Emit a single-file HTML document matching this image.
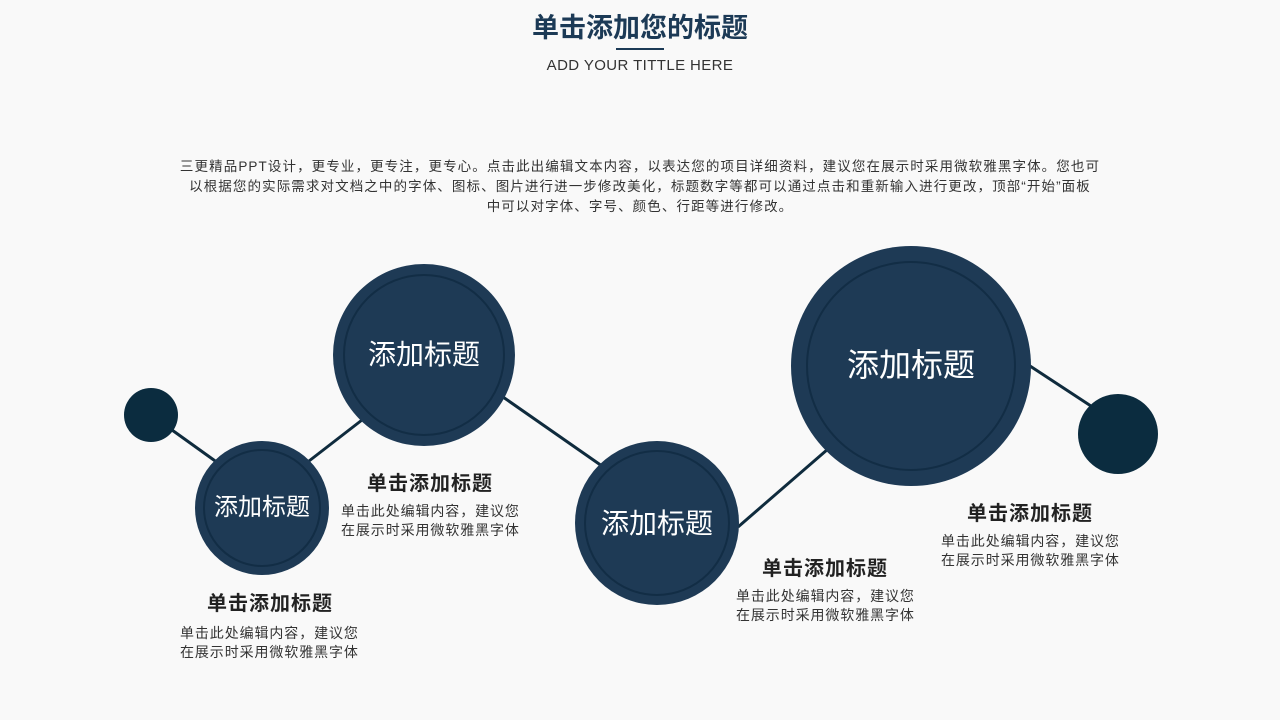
<!DOCTYPE html>
<html><head><meta charset="utf-8"><style>
body{margin:0;width:1280px;height:720px;background:#f9f9f9;font-family:"Liberation Sans","Noto Sans CJK SC",sans-serif;position:relative;overflow:hidden}
.t{position:absolute;white-space:nowrap}
.h{font-weight:bold;font-size:20px;color:#222;text-align:center;letter-spacing:1px}
.d{font-size:14px;color:#333;line-height:19px;letter-spacing:0.9px}
</style></head><body>
<div class="t" style="left:0;width:1280px;top:11px;text-align:center;font-size:27px;line-height:34px;font-weight:bold;color:#1c3a56">单击添加您的标题</div>
<div style="position:absolute;left:616px;top:48px;width:48px;height:2px;background:#1c3a56"></div>
<div class="t" style="left:0;width:1280px;top:57px;text-align:center;font-size:15px;color:#333;letter-spacing:0.4px">ADD YOUR TITTLE HERE</div>
<div class="t" style="left:100px;width:1080px;top:157px;text-align:center;font-size:13.5px;color:#333;line-height:20px;letter-spacing:1.1px">三更精品PPT设计，更专业，更专注，更专心。点击此出编辑文本内容，以表达您的项目详细资料，建议您在展示时采用微软雅黑字体。您也可<br>以根据您的实际需求对文档之中的字体、图标、图片进行进一步修改美化，标题数字等都可以通过点击和重新输入进行更改，顶部“开始”面板<br>中可以对字体、字号、颜色、行距等进行修改。</div>
<svg width="1280" height="720" style="position:absolute;left:0;top:0">
<g stroke="#0f2b3d" stroke-width="3">
<line x1="172" y1="430" x2="218" y2="463"/>
<line x1="309" y1="461" x2="362" y2="420"/>
<line x1="503" y1="397" x2="602" y2="466"/>
<line x1="738" y1="527" x2="828" y2="449"/>
<line x1="1030" y1="366" x2="1094" y2="408"/>
</g>
<circle cx="151" cy="415" r="27" fill="#0b2c3f"/>
<circle cx="1118" cy="434" r="40" fill="#0b2c3f"/>
<g fill="#1e3a55" stroke="#122d45" stroke-width="2">
<circle cx="262" cy="508" r="67" stroke="none"/><circle cx="262" cy="508" r="58" fill="none"/>
<circle cx="424" cy="355" r="91" stroke="none"/><circle cx="424" cy="355" r="80" fill="none"/>
<circle cx="657" cy="523" r="82" stroke="none"/><circle cx="657" cy="523" r="72" fill="none"/>
<circle cx="911" cy="366" r="120" stroke="none"/><circle cx="911" cy="366" r="104" fill="none"/>
</g>
<g fill="#fff" font-family="Liberation Sans,Noto Sans CJK SC,sans-serif" text-anchor="middle">
<text x="262" y="515" font-size="24">添加标题</text>
<text x="424" y="364" font-size="28">添加标题</text>
<text x="657" y="533" font-size="28">添加标题</text>
<text x="911" y="376" font-size="32">添加标题</text>
</g>
</svg>
<div class="t h" style="left:170px;width:200px;top:587px">单击添加标题</div>
<div class="t d" style="left:180px;top:624px">单击此处编辑内容，建议您<br>在展示时采用微软雅黑字体</div>
<div class="t h" style="left:330px;width:200px;top:467px">单击添加标题</div>
<div class="t d" style="left:341px;top:502px">单击此处编辑内容，建议您<br>在展示时采用微软雅黑字体</div>
<div class="t h" style="left:725px;width:200px;top:552px">单击添加标题</div>
<div class="t d" style="left:736px;top:587px">单击此处编辑内容，建议您<br>在展示时采用微软雅黑字体</div>
<div class="t h" style="left:930px;width:200px;top:497px">单击添加标题</div>
<div class="t d" style="left:941px;top:532px">单击此处编辑内容，建议您<br>在展示时采用微软雅黑字体</div>
</body></html>
